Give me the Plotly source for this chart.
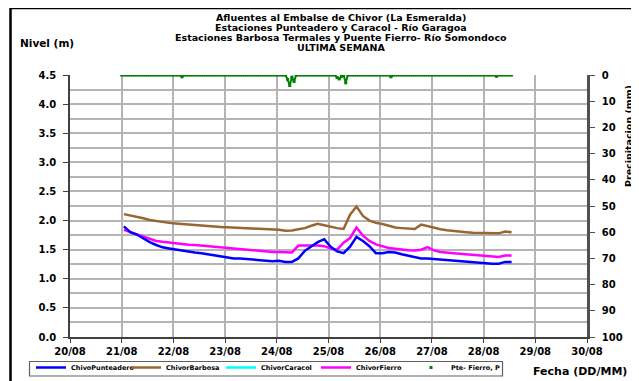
import pandas as pd
import plotly.graph_objects as go

# ---- data ----
level_times = pd.date_range("2010-08-21 01:00", periods=61, freq="3h")

punteadero = [1.90, 1.80, 1.76, 1.69, 1.63, 1.58, 1.54, 1.52, 1.50, 1.48, 1.46, 1.45,
              1.44, 1.42, 1.40, 1.38, 1.36, 1.35, 1.35, 1.34, 1.33, 1.33, 1.32, 1.30,
              1.31, 1.29, 1.29, 1.35, 1.48, 1.56, 1.63, 1.68, 1.55, 1.47, 1.44, 1.55,
              1.72, 1.65, 1.56, 1.44, 1.44, 1.46, 1.45, 1.42, 1.40, 1.38, 1.35, 1.35,
              1.34, 1.33, 1.32, 1.32, 1.31, 1.30, 1.29, 1.28, 1.27, 1.26, 1.26, 1.29, 1.29]

barbosa = [2.11, 2.09, 2.06, 2.04, 2.01, 1.99, 1.97, 1.96, 1.95, 1.94, 1.93, 1.92,
           1.915, 1.91, 1.90, 1.89, 1.885, 1.88, 1.875, 1.87, 1.865, 1.86, 1.85, 1.845,
           1.84, 1.825, 1.83, 1.85, 1.87, 1.91, 1.945, 1.92, 1.89, 1.87, 1.855, 2.10,
           2.24, 2.08, 2.00, 1.96, 1.94, 1.91, 1.88, 1.87, 1.86, 1.855, 1.93, 1.90,
           1.87, 1.85, 1.835, 1.82, 1.81, 1.80, 1.79, 1.79, 1.785, 1.78, 1.78, 1.81, 1.80]

fierro = [1.84, 1.80, 1.76, 1.72, 1.68, 1.65, 1.635, 1.62, 1.605, 1.595, 1.585, 1.58,
          1.57, 1.555, 1.545, 1.53, 1.52, 1.51, 1.50, 1.49, 1.48, 1.47, 1.47, 1.46,
          1.46, 1.45, 1.45, 1.57, 1.57, 1.58, 1.57, 1.56, 1.52, 1.50, 1.62, 1.70,
          1.88, 1.74, 1.65, 1.59, 1.56, 1.53, 1.515, 1.50, 1.49, 1.485, 1.50, 1.545,
          1.49, 1.46, 1.445, 1.44, 1.43, 1.42, 1.415, 1.40, 1.39, 1.38, 1.375, 1.40, 1.40]

caracol = [None]  # no data in the period (legend only)

precip_times = pd.date_range("2010-08-21 00:00", periods=182, freq="h")
precip = [
    0, 0, 0, 0, 0, 0, 0, 0, 0, 0, 0, 0, 0, 0, 0, 0, 0, 0, 0, 0, 0, 0, 0, 0,
    0, 0, 0, 0, 0.7, 0, 0, 0, 0, 0, 0, 0, 0, 0, 0, 0, 0, 0, 0, 0, 0, 0, 0, 0,
    0, 0, 0, 0, 0, 0, 0, 0, 0, 0, 0, 0, 0, 0, 0, 0, 0, 0, 0, 0, 0, 0, 0, 0,
    0, 0, 0, 0, 0, 1.7, 4.0, 0.8, 2.5, 0, 0, 0, 0, 0, 0, 0, 0, 0, 0, 0, 0, 0, 0, 0,
    0, 0, 0, 0, 1.0, 1.5, 0.5, 0, 3.0, 0, 0, 0, 0, 0, 0, 0, 0, 0, 0, 0, 0, 0, 0, 0,
    0, 0, 0, 0, 0, 0.7, 0, 0, 0, 0, 0, 0, 0, 0, 0, 0, 0, 0, 0, 0, 0, 0, 0, 0,
    0, 0, 0, 0, 0, 0, 0, 0, 0, 0, 0, 0, 0, 0, 0, 0, 0, 0, 0, 0, 0, 0, 0, 0,
    0, 0, 0, 0, 0, 0, 0.5, 0, 0, 0, 0, 0, 0, 0,
]

title_lines = ["Afluentes al Embalse de Chivor (La Esmeralda)",
               "Estaciones Punteadero y Caracol - Río Garagoa",
               "Estaciones Barbosa Termales y Puente Fierro- Río Somondoco",
               "ULTIMA SEMANA"]

# ---- layout geometry ----
# the page body has an 8px margin, so the figure starts at (8, 8) in the window
OFF = 8
W, H = 639 - OFF, 381 - OFF
L, R, T, B = 70, 587, 75, 337          # plot area in window pixels


def px(x):
    return (x - L) / (R - L)


def py(y):
    return (B - y) / (B - T)


FONT = "DejaVu Sans"
bold = dict(family=FONT, weight="bold", color="black")
GRID = "#b4b4b4"

fig = go.Figure()

fig.add_trace(go.Scatter(x=precip_times, y=precip, yaxis="y2", mode="lines+markers",
                         line=dict(color="#008000", width=2),
                         marker=dict(color="#008000", size=3, symbol="square"),
                         showlegend=False, hoverinfo="skip"))
fig.add_trace(go.Scatter(x=level_times, y=barbosa, name="ChivorBarbosa", mode="lines",
                         line=dict(color="#996633", width=2.5), legendrank=2))
fig.add_trace(go.Scatter(x=level_times[:len(caracol)], y=caracol, name="ChivorCaracol",
                         mode="lines", line=dict(color="#00ffff", width=2.5), legendrank=3))
fig.add_trace(go.Scatter(x=level_times, y=fierro, name="ChivorFierro", mode="lines",
                         line=dict(color="#ff00ff", width=2.5), legendrank=4))
fig.add_trace(go.Scatter(x=level_times, y=punteadero, name="ChivoPunteadero", mode="lines",
                         line=dict(color="#0000ff", width=2.5), legendrank=1))
fig.add_trace(go.Scatter(x=[None], y=[None], yaxis="y2", name="Pte- Fierro, P",
                         mode="markers", marker=dict(color="#008000", size=3, symbol="square"),
                         legendrank=5))

annotations = []
for txt, yy in zip(title_lines, [17.5, 27.5, 37.5, 47.5]):
    annotations.append(dict(text=txt, x=px(341), y=py(yy), xref="paper", yref="paper",
                            xanchor="center", yanchor="middle", showarrow=False,
                            font=dict(size=9.5, **bold)))
annotations.append(dict(text="Nivel (m)", x=px(18), y=py(43), xref="paper", yref="paper",
                        xanchor="left", yanchor="middle", showarrow=False,
                        font=dict(size=10.5, **bold)))
annotations.append(dict(text="Precipitacion (mm)", x=px(628), y=py(136), xref="paper",
                        yref="paper", xanchor="center", yanchor="middle", textangle=-90,
                        showarrow=False, font=dict(size=9.5, **bold)))
annotations.append(dict(text="Fecha (DD/MM)", x=px(580), y=py(371), xref="paper",
                        yref="paper", xanchor="center", yanchor="middle", showarrow=False,
                        font=dict(size=11, **bold)))

fig.update_layout(
    width=W, height=H,
    margin=dict(l=L - OFF, r=W - (R - OFF), t=T - OFF, b=H - (B - OFF), pad=0,
                autoexpand=False),
    paper_bgcolor="white", plot_bgcolor="white",
    font=dict(family=FONT, color="black"),
    xaxis=dict(type="date", range=["2010-08-20", "2010-08-30"],
               tick0="2010-08-20", dtick=86400000, tickformat="%d/%m",
               showgrid=True, gridcolor=GRID, gridwidth=1.5,
               showline=True, linecolor="#404040", linewidth=2,
               ticks="outside", ticklen=4, tickcolor="#404040",
               tickfont=dict(size=10, **bold), zeroline=False, automargin=False),
    yaxis=dict(range=[0, 4.5], dtick=0.5, tickformat=".1f",
               showgrid=True, gridcolor=GRID, gridwidth=1.5,
               minor=dict(dtick=0.25, showgrid=True, gridcolor=GRID, gridwidth=1.5),
               showline=True, linecolor="#404040", linewidth=1.5,
               ticks="outside", ticklen=5, tickcolor="#404040", ticklabelstandoff=5,
               tickfont=dict(size=10, **bold), zeroline=False, automargin=False),
    yaxis2=dict(range=[100, 0], dtick=10, overlaying="y", side="right",
                showgrid=False, showline=True, linecolor="#505050", linewidth=2.5,
                ticks="outside", ticklen=5, tickcolor="#505050", ticklabelstandoff=5,
                tickfont=dict(size=10, **bold), zeroline=False, automargin=False),
    legend=dict(orientation="h", x=px(31), y=py(353), xanchor="left", yanchor="top",
                borderwidth=0, bgcolor="rgba(0,0,0,0)",
                font=dict(size=6.5, **bold), entrywidth=50, entrywidthmode="pixels",
                itemwidth=30, tracegroupgap=0),
    annotations=annotations,
    shapes=[dict(type="rect", xref="paper", yref="paper",
                 x0=px(10.5), x1=px(645), y0=py(8), y1=py(390),
                 line=dict(color="black", width=2.5), fillcolor="rgba(0,0,0,0)",
                 layer="above"),
            dict(type="rect", xref="paper", yref="paper",
                 x0=px(29.5), x1=px(502.5), y0=py(361.5), y1=py(376),
                 line=dict(color="#606060", width=1.2), fillcolor="rgba(0,0,0,0)",
                 layer="above")],
    showlegend=True,
)

fig.write_html("out.html")
